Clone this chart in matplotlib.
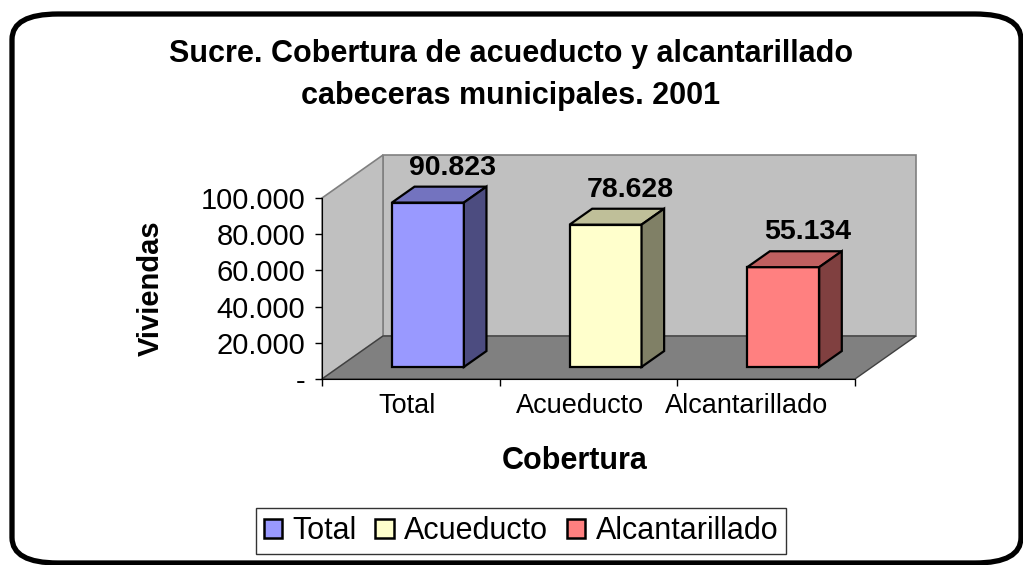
import matplotlib
matplotlib.use("Agg")
import matplotlib.pyplot as plt
from matplotlib.patches import Polygon, FancyBboxPatch, Patch

plt.rcParams['font.family'] = ['Liberation Sans', 'DejaVu Sans']

# Datos
categorias = ["Total", "Acueducto", "Alcantarillado"]
viviendas = [90823, 78628, 55134]
etiquetas = ["90.823", "78.628", "55.134"]
ticks_y = [0, 20000, 40000, 60000, 80000, 100000]
ticks_y_txt = ["-", "20.000", "40.000", "60.000", "80.000", "100.000"]

# Colores (frente, tapa, lado)
frente = ["#9999FF", "#FFFFCC", "#FF8080"]
tapa = ["#7373BF", "#BFBF99", "#BF6060"]
lado = ["#4C4C80", "#808066", "#804040"]

W, H = 1023, 565
fig = plt.figure(figsize=(W / 100, H / 100), dpi=100)

# Marco redondeado
marco = FancyBboxPatch((12 / W, 2 / H), 1009 / W, 549 / H,
                       boxstyle="round,pad=0,rounding_size=0.045",
                       transform=fig.transFigure, fill=False,
                       edgecolor="black", linewidth=3.8, zorder=10)
fig.patches.append(marco)

# Ejes = plano frontal del grafico 3D
ax = fig.add_axes([322 / W, 1 - 379 / H, 533 / W, 181 / H])
ymax = 100000
ax.set_xlim(0, 3)
ax.set_ylim(0, ymax)
ax.patch.set_visible(False)

# Profundidad en unidades de datos
px_x = 3 / 533
px_y = ymax / 181
dx, dy = 61 * px_x, 43 * px_y

kw = dict(clip_on=False)
# Pared del fondo, pared izquierda y piso
ax.add_patch(Polygon([(dx, dy), (3 + dx, dy), (3 + dx, ymax + dy), (dx, ymax + dy)],
                     facecolor="#C0C0C0", edgecolor="#808080", lw=1.2, zorder=0, **kw))
ax.add_patch(Polygon([(0, 0), (dx, dy), (dx, ymax + dy), (0, ymax)],
                     facecolor="#C0C0C0", edgecolor="#808080", lw=1.2, zorder=0, **kw))
ax.add_patch(Polygon([(0, 0), (3, 0), (3 + dx, dy), (dx, dy)],
                     facecolor="#808080", edgecolor="#404040", lw=1.0, zorder=1, **kw))

# Barras 3D
f0, f1 = 0.28, 0.65
ancho = 0.405
for i, v in enumerate(viviendas):
    x0 = i + 0.5 + f0 * dx - ancho / 2
    x1 = x0 + ancho
    y0 = f0 * dy
    y1 = y0 + v
    ddx, ddy = (f1 - f0) * dx, (f1 - f0) * dy
    ax.add_patch(Polygon([(x0, y0), (x1, y0), (x1, y1), (x0, y1)],
                         facecolor=frente[i], edgecolor="black", lw=1.6, zorder=5, **kw))
    ax.add_patch(Polygon([(x0, y1), (x1, y1), (x1 + ddx, y1 + ddy), (x0 + ddx, y1 + ddy)],
                         facecolor=tapa[i], edgecolor="black", lw=1.6, zorder=5, **kw))
    ax.add_patch(Polygon([(x1, y0), (x1 + ddx, y0 + ddy), (x1 + ddx, y1 + ddy), (x1, y1)],
                         facecolor=lado[i], edgecolor="black", lw=1.6, zorder=5, **kw))
    ax.text((x0 + x1) / 2 + ddx + 0.01, y1 + ddy + 6 * px_y, etiquetas[i],
            ha="center", va="bottom", fontsize=20.5, fontweight="bold", zorder=6)

# Ejes y ticks
for s in ["top", "right"]:
    ax.spines[s].set_visible(False)
ax.spines["left"].set_color("black")
ax.spines["bottom"].set_color("black")
ax.spines["left"].set_zorder(3)
ax.set_yticks(ticks_y)
ax.set_yticklabels(ticks_y_txt, fontsize=21)
ax.set_xticks([0, 1, 2, 3])
ax.set_xticklabels([])
ax.tick_params(axis="both", direction="out", length=5, width=1, color="black")
ax.tick_params(axis="y", pad=7)

# Etiquetas de categoria
desplaz = [-0.02, -0.05, -0.11]
for i, c in enumerate(categorias):
    ax.text(i + 0.5 + desplaz[i], -27 * px_y, c, ha="center", va="center", fontsize=19.5)

ax.set_xlabel("Cobertura", fontsize=22, fontweight="bold")
ax.xaxis.set_label_coords(0.474, -0.37)
ax.set_ylabel("Viviendas", fontsize=21, fontweight="bold")
ax.yaxis.set_label_coords(-0.295, 0.5)

fig.text(511 / W, 1 - 75 / H,
         "Sucre. Cobertura de acueducto y alcantarillado\ncabeceras municipales. 2001",
         ha="center", va="center", fontsize=22, fontweight="bold", linespacing=1.5)

# Leyenda
handles = [Patch(facecolor=frente[i], edgecolor="black", lw=1.8) for i in range(3)]
fig.legend(handles, categorias, loc="center", bbox_to_anchor=(521 / W, 1 - 531 / H),
           ncol=3, fontsize=22, frameon=True, fancybox=False, edgecolor="black",
           handlelength=0.6, handleheight=0.6, handletextpad=0.35, columnspacing=0.6,
           borderpad=0.25, borderaxespad=0)

fig.savefig("out.png", dpi=100)
